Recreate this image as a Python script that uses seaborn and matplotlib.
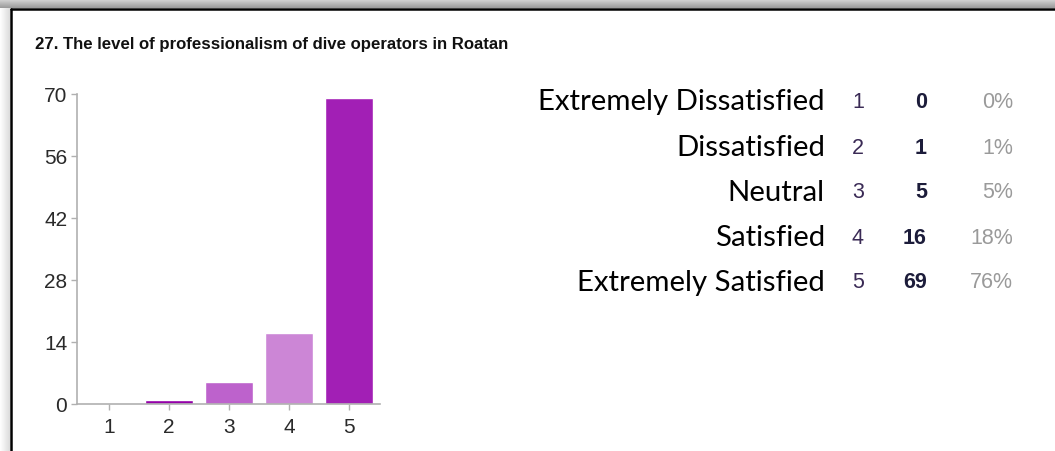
import numpy as np
import pandas as pd
import matplotlib
matplotlib.use("Agg")
import matplotlib.pyplot as plt
import seaborn as sns

# Survey answers for question 27
title = "27. The level of professionalism of dive operators in Roatan"
levels = ["1", "2", "3", "4", "5"]
answers = ["Extremely Dissatisfied", "Dissatisfied", "Neutral", "Satisfied", "Extremely Satisfied"]
counts = [0, 1, 5, 16, 69]
bar_colors = ["#9a2fb0", "#9400a8", "#bd62cc", "#cc86d6", "#a21fb5"]
y_ticks = [0, 14, 28, 42, 56, 70]

total = sum(counts)
percents = [round(100 * c / total) for c in counts]

df = pd.DataFrame({"level": levels, "count": counts})

sns.set_theme(style="white")
plt.rcParams["font.family"] = ["Liberation Sans", "DejaVu Sans"]

fig = plt.figure(figsize=(10.55, 4.51), dpi=100)
W, H = 1055, 451

# window frame: grey band with shadow on top, shadow on the left, black edges
band = fig.add_axes([0, (H - 8) / H, 1, 8 / H])
grad = np.linspace(0.82, 0.6, 50).reshape(-1, 1)
band.imshow(grad, cmap="gray", vmin=0, vmax=1, aspect="auto", extent=[0, 1, 0, 1])
band.axis("off")
side = fig.add_axes([0, 0, 10 / W, (H - 8) / H])
sgrad = np.linspace(1.0, 0.86, 30).reshape(1, -1)
side.imshow(sgrad, cmap="gray", vmin=0, vmax=1, aspect="auto", extent=[0, 1, 0, 1])
side.axis("off")
fig.add_artist(plt.Line2D([10.5 / W, 1], [(H - 8.5) / H, (H - 8.5) / H], color="black", lw=1.8))
fig.add_artist(plt.Line2D([11 / W, 11 / W], [0, (H - 8.5) / H], color="black", lw=1.8))

fig.text(35 / W, 1 - 45 / H, title, fontsize=12.1, fontweight="bold",
         color="#111111", va="center", ha="left")

ax = fig.add_axes([77 / W, 47 / H, 303 / W, 310 / H])
sns.barplot(data=df, x="level", y="count", hue="level", palette=bar_colors,
            legend=False, width=0.8, saturation=1, ax=ax)
ax.set_xlim(-0.533, 4.517)
ax.set_ylim(0, 70)
ax.set_yticks(y_ticks)
ax.set_xlabel("")
ax.set_ylabel("")
for s in ["top", "right"]:
    ax.spines[s].set_visible(False)
for s in ["left", "bottom"]:
    ax.spines[s].set_color("#b0b0b0")
    ax.spines[s].set_linewidth(1.2)
ax.tick_params(axis="both", length=4, width=1, color="#b0b0b0",
               labelsize=15, labelcolor="#2a2a2a", pad=3, left=True, bottom=True)
ax.tick_params(axis="x", pad=6)

# table of answers on the right
row_y = [102, 148, 193, 238, 283]
for i in range(len(levels)):
    y = 1 - row_y[i] / H
    fig.text(825 / W, y, answers[i], fontsize=21.2, family=["Lato", "DejaVu Sans"],
             color="#000000", ha="right", va="center")
    fig.text(858 / W, y, levels[i], fontsize=15.5, color="#3a2a55",
             ha="center", va="center")
    fig.text(927 / W, y, str(counts[i]), fontsize=15.5, fontweight="bold",
             color="#1c1c3a", ha="right", va="center")
    fig.text(1013 / W, y, f"{percents[i]}%", fontsize=15.5, color="#9a9a9a",
             ha="right", va="center")

fig.savefig("out.png", dpi=100, facecolor="white")
